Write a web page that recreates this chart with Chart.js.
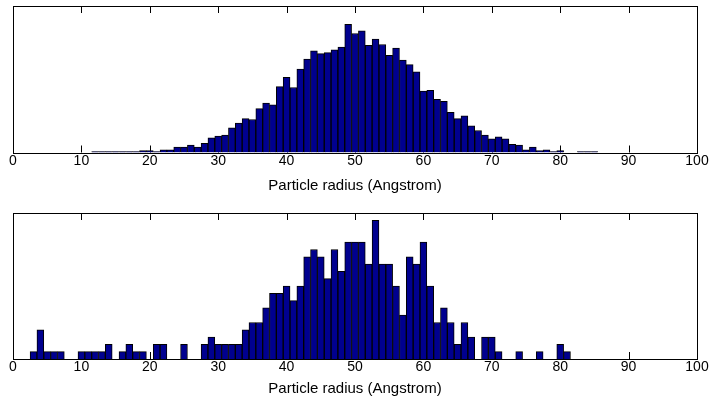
<!DOCTYPE html>
<html><head><meta charset="utf-8">
<script src="https://cdn.jsdelivr.net/npm/chart.js@4.4.0/dist/chart.umd.min.js"></script>
<style>
html,body{margin:0;padding:0;background:#fff;width:712px;height:403px;overflow:hidden;}
#c1{position:absolute;left:0;top:0;}
#c2{position:absolute;left:0;top:200px;}
</style></head><body>
<canvas id="c1" width="712" height="193"></canvas>
<canvas id="c2" width="712" height="196"></canvas>
<script>
// Bin centres (Angstrom)
const binCenters = [0,1,2,3,4,5,6,7,8,9,10,11,12,13,14,15,16,17,18,19,20,21,22,23,24,25,26,27,28,29,30,31,32,33,34,35,36,37,38,39,40,41,42,43,44,45,46,47,48,49,50,51,52,53,54,55,56,57,58,59,60,61,62,63,64,65,66,67,68,69,70,71,72,73,74,75,76,77,78,79,80,81,82,83,84,85,86,87,88,89,90,91,92,93,94,95,96,97,98,99,100];
// Top histogram counts (large sample)
const topCounts = [0,0,0,0,0,0,0,0,0,0, 0,0,1,1,1,1,1,1,1,2, 2,1,3,3,6,6,8,6,10,16, 18,19,27,32,37,36,48,54,52,72, 82,71,91,102,111,108,109,112,115,140, 130,133,117,124,118,106,114,101,96,88, 67,68,58,56,44,37,40,29,24,19, 15,17,15,9,8,3,6,2,3,1, 2,0,0,1,1,1,0,0,0,0, 0,0,0,0,0,0,0,0,0,0, 0];
// Bottom histogram counts (small sample)
const bottomCounts = [0,0,0,1,4,1,1,1,0,0, 1,1,1,1,2,0,1,2,1,1, 0,2,2,0,0,2,0,0,2,3, 2,2,2,2,4,5,5,7,9,9, 10,8,10,14,15,14,11,15,12,16, 16,16,13,19,13,13,10,6,14,13, 16,10,5,7,5,2,5,3,0,3, 3,1,0,0,1,0,0,1,0,0, 2,1,0,0,0,0,0,0,0,0, 0,0,0,0,0,0,0,0,0,0, 0];
const xTickValues = [0,10,20,30,40,50,60,70,80,90,100];
const axisTitle = 'Particle radius (Angstrom)';
const topYMax = 160;
const bottomYMax = 20;

const boxPlugin = {
  id: 'matlabBox',
  beforeDatasetsDraw(chart) {
    const {ctx, chartArea: a, scales: {x}} = chart;
    ctx.save();
    ctx.strokeStyle = '#000';
    ctx.lineWidth = 1;
    ctx.beginPath();
    xTickValues.forEach(v => {
      const px = Math.round(x.getPixelForValue(v)) + 0.5;
      ctx.moveTo(px, a.bottom); ctx.lineTo(px, a.bottom - 7);
      ctx.moveTo(px, a.top); ctx.lineTo(px, a.top + 7);
    });
    ctx.stroke();
    ctx.restore();
  },
  afterDatasetsDraw(chart) {
    const {ctx, chartArea: a} = chart;
    ctx.save();
    ctx.strokeStyle = '#000';
    ctx.lineWidth = 1;
    const l = Math.round(a.left) + 0.5, t = Math.round(a.top) + 0.5;
    ctx.strokeRect(l, t, Math.round(a.right) - Math.round(a.left), Math.round(a.bottom) - Math.round(a.top));
    ctx.restore();
  }
};

const fontFamily = '"Liberation Sans", Arial, Helvetica, sans-serif';

function makeChart(id, counts, yMax, padTop, axisH) {
  const pts = binCenters.map((x, i) => ({x: x, y: counts[i]}));
  return new Chart(document.getElementById(id), {
    type: 'bar',
    data: {datasets: [{
      data: pts,
      backgroundColor: '#00008f',
      borderColor: '#000000',
      borderWidth: 1,
      barPercentage: 1,
      categoryPercentage: 1
    }]},
    options: {
      responsive: false,
      animation: false,
      devicePixelRatio: 1,
      layout: {padding: {left: 13, right: 15, top: padTop, bottom: 0}},
      plugins: {legend: {display: false}, tooltip: {enabled: false}},
      scales: {
        x: {
          type: 'linear', min: 0, max: 100, offset: false,
          grid: {display: false, drawTicks: false},
          border: {display: false},
          afterBuildTicks: s => { s.ticks = xTickValues.map(v => ({value: v})); },
          ticks: {color: '#000', font: {family: fontFamily, size: 14}, padding: 0, maxRotation: 0, autoSkip: false},
          title: {display: true, text: axisTitle, color: '#000', font: {family: fontFamily, size: 15, lineHeight: 1}, padding: 0},
          afterFit: s => { s.height = axisH; }
        },
        y: {display: false, min: 0, max: yMax}
      }
    },
    plugins: [boxPlugin]
  });
}

makeChart('c1', topCounts, topYMax, 6, 40.5);
makeChart('c2', bottomCounts, bottomYMax, 13, 37);
</script>
</body></html>
